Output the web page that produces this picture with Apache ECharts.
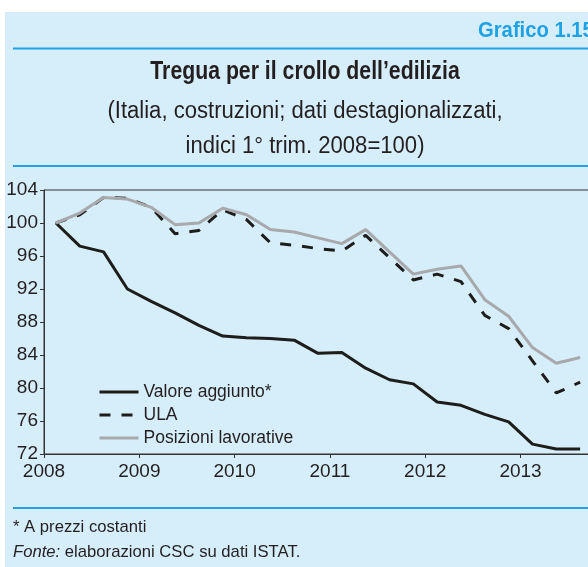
<!DOCTYPE html>
<html>
<head>
<meta charset="utf-8">
<script src="https://cdn.jsdelivr.net/npm/echarts@6/dist/echarts.min.js"></script>
<style>
html,body{margin:0;padding:0;overflow:hidden;background:#ffffff;}
#c{width:640px;height:567px;}
</style>
</head>
<body>
<div id="c"></div>
<script>
// Quarters (points drawn at the middle of each quarter)
const quarters = ["2008Q1","2008Q2","2008Q3","2008Q4","2009Q1","2009Q2","2009Q3","2009Q4",
  "2010Q1","2010Q2","2010Q3","2010Q4","2011Q1","2011Q2","2011Q3","2011Q4",
  "2012Q1","2012Q2","2012Q3","2012Q4","2013Q1","2013Q2","2013Q3"];
const valoreAggiunto = [100, 97.2, 96.5, 92.0, 90.5, 89.1, 87.6, 86.3, 86.1, 86.0, 85.8, 84.2,
  84.3, 82.4, 81.0, 80.5, 78.3, 77.9, 76.8, 75.9, 73.2, 72.6, 72.6];
const ula = [100, 101.0, 103.1, 103.0, 101.9, 98.7, 99.1, 101.6, 100.4, 97.6, 97.3, 96.9,
  96.6, 98.5, 95.8, 93.1, 93.8, 92.9, 88.8, 87.2, 83.3, 79.4, 80.7];
const posizioni = [100, 101.2, 103.1, 102.9, 101.9, 99.8, 100.0, 101.8, 101.0, 99.2, 98.9, 98.2,
  97.5, 99.2, 96.5, 93.8, 94.4, 94.8, 90.7, 88.7, 84.9, 83.0, 83.7];
const yearTicks = [2008, 2009, 2010, 2011, 2012, 2013, 2014];
const seriesNames = ["Valore aggiunto*", "ULA", "Posizioni lavorative"];

function qx(q){ const y = parseInt(q.slice(0,4),10); const n = parseInt(q.slice(5),10); return y + (n - 0.5) / 4; }
function pairs(vals){ return vals.map((v,i)=>[qx(quarters[i]), v]); }

const TXT = '#231f20';
const BLUE = '#1fa2e3';
const BG = '#d6edfa';
const FONT = "'Liberation Sans', Arial, Helvetica, sans-serif";

const chart = echarts.init(document.getElementById('c'), null, {renderer:'canvas'});
chart.setOption({
  animation: false,
  backgroundColor: '#ffffff',
  graphic: [
    {type:'rect', z:-10, shape:{x:5, y:12, width:700, height:600}, style:{fill:BG}},
    {type:'rect', z:-9, shape:{x:13, y:47.5, width:700, height:2}, style:{fill:BLUE}},
    {type:'rect', z:-9, shape:{x:13, y:165, width:700, height:2}, style:{fill:BLUE}},
    {type:'rect', z:-9, shape:{x:13, y:507, width:700, height:2}, style:{fill:BLUE}},
    {type:'text', x:478, y:31, scaleX:0.92, style:{text:'Grafico 1.15', fill:BLUE, font:"bold 22px " + FONT, align:'left', verticalAlign:'middle'}},
    {type:'text', x:305, y:72.5, scaleX:0.85, style:{text:'Tregua per il crollo dell\u2019edilizia', fill:TXT, font:"bold 25px " + FONT, align:'center', verticalAlign:'middle'}},
    {type:'text', x:305, y:111.5, scaleX:0.96, style:{text:'(Italia, costruzioni; dati destagionalizzati,', fill:TXT, font:"23px " + FONT, align:'center', verticalAlign:'middle'}},
    {type:'text', x:305, y:147, scaleX:0.96, style:{text:'indici 1\u00b0 trim. 2008=100)', fill:TXT, font:"23px " + FONT, align:'center', verticalAlign:'middle'}},
    {type:'text', x:13, y:527, scaleX:0.98, style:{text:'* A prezzi costanti', fill:TXT, font:"17px " + FONT, align:'left', verticalAlign:'middle'}},
    {type:'text', x:13, y:552, scaleX:0.98, style:{text:'{i|Fonte:} elaborazioni CSC su dati ISTAT.', fill:TXT, font:"17px " + FONT, align:'left', verticalAlign:'middle',
      rich:{i:{fontStyle:'italic', fontSize:17, fontFamily:FONT, fill:TXT}}}}
  ],
  grid: {left:44, top:190, width:578, height:264, show:true, borderColor:'#333333', borderWidth:1, backgroundColor:'transparent'},
  legend: {
    data: seriesNames, orient:'vertical', left:98, top:383, padding:0, itemWidth:39, itemHeight:14, itemGap:5,
    itemStyle:{color:'rgba(0,0,0,0)', borderWidth:0, opacity:0},
    lineStyle:{width:3},
    textStyle:{fontSize:17.5, color:TXT, fontFamily:FONT}, inactiveColor:'#999'
  },
  xAxis: {
    type:'value', min:yearTicks[0], max:yearTicks[yearTicks.length-1], interval:1,
    axisLine:{lineStyle:{color:'#333333', width:1}},
    axisTick:{show:true, inside:false, length:4, lineStyle:{color:'#333333'}},
    axisLabel:{fontSize:19, color:TXT, fontFamily:FONT, margin:8, formatter:(v)=>String(Math.round(v))},
    splitLine:{show:false}
  },
  yAxis: {
    type:'value', min:72, max:104, interval:4,
    axisLine:{show:true, lineStyle:{color:'#333333', width:1}},
    axisTick:{show:true, inside:false, length:4, lineStyle:{color:'#333333'}},
    axisLabel:{fontSize:19, color:TXT, fontFamily:FONT, margin:6},
    splitLine:{show:false}
  },
  series: [
    {name:seriesNames[0], type:'line', data:pairs(valoreAggiunto), symbol:'none', smooth:false,
      lineStyle:{color:'#1d1d1b', width:3}, itemStyle:{color:'#1d1d1b'}},
    {name:seriesNames[1], type:'line', data:pairs(ula), symbol:'none', smooth:false,
      lineStyle:{color:'#1d1d1b', width:3, type:[11,11]}, itemStyle:{color:'#1d1d1b'}},
    {name:seriesNames[2], type:'line', data:pairs(posizioni), symbol:'none', smooth:false,
      lineStyle:{color:'#a7a9ac', width:3}, itemStyle:{color:'#a7a9ac'}}
  ]
});
</script>
</body>
</html>
